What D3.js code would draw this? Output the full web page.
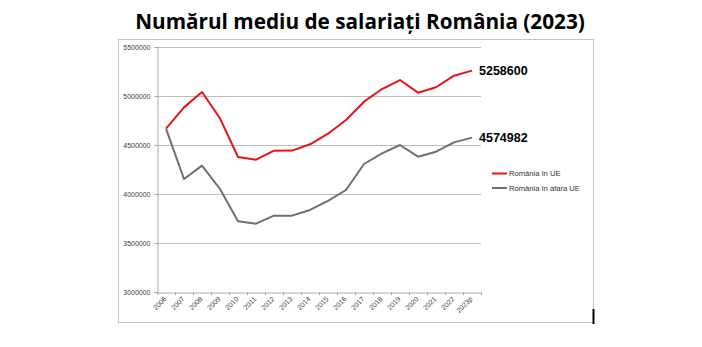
<!DOCTYPE html>
<html><head><meta charset="utf-8">
<script src="https://cdn.jsdelivr.net/npm/d3@7"></script>
<style>body{margin:0;background:#fff}svg{display:block}</style>
</head><body>
<script>
const years = ["2006","2007","2008","2009","2010","2011","2012","2013","2014","2015","2016","2017","2018","2019","2020","2021","2022","2023p"];
const inUE = [4667000,4884000,5041000,4772000,4378000,4350000,4442000,4443000,4507000,4615000,4755000,4942000,5071000,5163000,5034000,5089000,5207000,5258600];
const outUE = [4667000,4153000,4289000,4051000,3721000,3697000,3779000,3779000,3837000,3929000,4041000,4306000,4415000,4500000,4381000,4432000,4527000,4574982];
const yTicks = [3000000,3500000,4000000,4500000,5000000,5500000];
const seriesNames = ["România în UE","România în afara UE"];
const colors = ["#e8141b","#6f6f6f"];
const title = "Numărul mediu de salariați România (2023)";

const W=702,H=347;
const svg=d3.select("body").append("svg").attr("width",W).attr("height",H);
svg.append("rect").attr("width",W).attr("height",H).attr("fill","#fff");

// frame
svg.append("rect").attr("x",118.5).attr("y",39.5).attr("width",475).attr("height",283)
  .attr("fill","#fff").attr("stroke","#c4c4c4").attr("stroke-width",1);
svg.append("line").attr("x1",593.5).attr("x2",593.5).attr("y1",309).attr("y2",324)
  .attr("stroke","#000").attr("stroke-width",2);

const L=157,R=481,T=47,B=292;
const x=d3.scaleBand().domain(years).range([L,R]);
const y=d3.scaleLinear().domain([3000000,5500000]).range([B,T]);

// gridlines
svg.append("g").selectAll("line").data(yTicks.slice(1)).join("line")
  .attr("x1",L).attr("x2",R).attr("y1",d=>Math.round(y(d))+0.5).attr("y2",d=>Math.round(y(d))+0.5)
  .attr("stroke","#bcbcbc").attr("stroke-width",1);

// y axis
const ya=svg.append("g").attr("transform",`translate(${L+0.5},0)`)
  .call(d3.axisLeft(y).tickValues(yTicks).tickSize(3).tickPadding(4).tickFormat(d3.format("d")));
ya.select(".domain").attr("stroke","#a8a8a8");
ya.selectAll(".tick line").attr("stroke","#a8a8a8");
ya.selectAll("text").attr("font-family","Liberation Sans, Arial, sans-serif").attr("font-size",7).attr("fill","#404040");

// x axis
const xa=svg.append("g").attr("transform",`translate(0,${B+0.5})`)
  .call(d3.axisBottom(x).tickSize(0).tickPadding(0));
xa.select(".domain").attr("stroke","#a8a8a8");
xa.selectAll(".tick text").attr("text-anchor","end").attr("font-family","Liberation Sans, Arial, sans-serif")
  .attr("font-size",7).attr("fill","#404040")
  .attr("dy",0).attr("y",0)
  .attr("transform","translate(1,7) rotate(-45)");
svg.append("g").selectAll("line").data(d3.range(years.length+1)).join("line")
  .attr("x1",i=>Math.round(L+i*x.step())+0.5).attr("x2",i=>Math.round(L+i*x.step())+0.5)
  .attr("y1",B).attr("y2",B+3).attr("stroke","#a8a8a8");

// lines
const line=d3.line().x((d,i)=>x(years[i])+x.bandwidth()/2).y(d=>y(d));
[inUE,outUE].forEach((s,k)=>{
  svg.append("path").datum(s).attr("d",line).attr("fill","none")
    .attr("stroke",colors[k]).attr("stroke-width",2).attr("stroke-linejoin","round");
  svg.append("text").attr("x",x(years[years.length-1])+x.bandwidth()/2+7).attr("y",y(s[s.length-1])+4)
    .attr("font-family","Liberation Sans, Arial, sans-serif").attr("font-weight","bold").attr("font-size",12.5)
    .attr("fill","#000").text(d3.format("d")(s[s.length-1]));
});

// legend
seriesNames.forEach((n,k)=>{
  const ly=173.5+k*14.5;
  svg.append("line").attr("x1",492).attr("x2",507).attr("y1",ly).attr("y2",ly)
    .attr("stroke",colors[k]).attr("stroke-width",2);
  svg.append("text").attr("x",509).attr("y",ly+2.8).attr("font-family","Liberation Sans, Arial, sans-serif")
    .attr("font-size",7.6).attr("fill","#303030").text(n);
});

// title
const t=svg.append("text").attr("x",360).attr("y",29).attr("text-anchor","middle")
  .attr("font-family","Open Sans, sans-serif").attr("font-weight","bold").attr("font-size",22)
  .attr("fill","#000").text(title);
const w=t.node().getComputedTextLength();
t.attr("font-size",22*450/w);
</script>
</body></html>
